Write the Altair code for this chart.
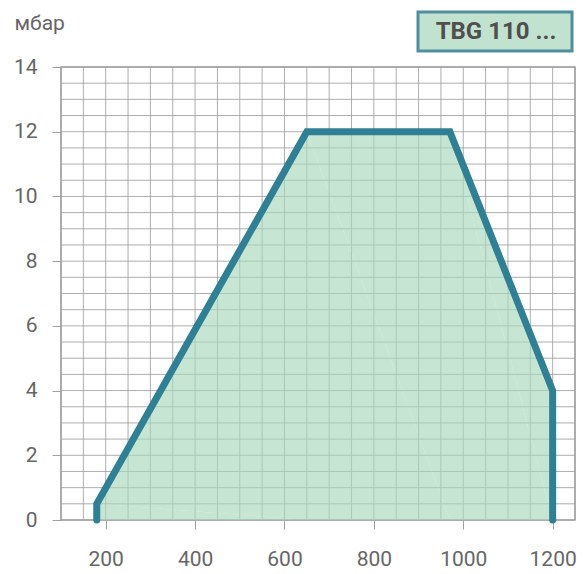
import altair as alt
import pandas as pd

# Data: working field outline
flow = [180, 180, 650, 970, 1200, 1200]
pressure = [0, 0.5, 12, 12, 4, 0]
order = list(range(len(flow)))

x_grid = list(range(100, 1251, 50))
y_grid = [v / 2 for v in range(0, 29)]
x_labels = [200, 400, 600, 800, 1000, 1200]
y_labels = [0, 2, 4, 6, 8, 10, 12, 14]
badge_text = "TBG 110 ..."
y_unit = "мбар"

df = pd.DataFrame({"flow": flow, "pressure": pressure, "order": order})
xg = pd.DataFrame({"x": x_grid})
yg = pd.DataFrame({"y": y_grid})

W, H = 514, 453
FONT = "Roboto"
LABEL_COLOR = "#666666"
GRID_COLOR = "#a0a0a0"

xscale = alt.Scale(domain=[100, 1250], nice=False, zero=False)
yscale = alt.Scale(domain=[0, 14], nice=False)

x_axis = alt.Axis(
    values=x_labels,
    format="d",
    tickColor=GRID_COLOR,
    tickSize=9,
    grid=False,
    domain=False,
    labelFont=FONT,
    labelFontSize=21,
    labelColor=LABEL_COLOR,
    labelPadding=19,
    title=None,
)

y_axis = alt.Axis(
    values=y_labels,
    format="d",
    tickColor=GRID_COLOR,
    tickSize=9,
    grid=False,
    domain=False,
    labelFont=FONT,
    labelFontSize=21,
    labelColor=LABEL_COLOR,
    labelPadding=15,
    title=y_unit,
    titleAngle=0,
    titleAlign="left",
    titleBaseline="middle",
    titleX=-47,
    titleY=-44,
    titleFont=FONT,
    titleFontSize=21,
    titleFontWeight="normal",
    titleColor=LABEL_COLOR,
)

vgrid = alt.Chart(xg).mark_rule(color=GRID_COLOR, strokeWidth=1, opacity=0.85).encode(
    x=alt.X("x:Q", scale=xscale, axis=x_axis)
)
hgrid = alt.Chart(yg).mark_rule(color=GRID_COLOR, strokeWidth=1, opacity=0.85).encode(
    y=alt.Y("y:Q", scale=yscale, axis=y_axis)
)

base = alt.Chart(df)

area = base.mark_area(color="#a8d8bb", opacity=0.65, line=False).encode(
    x=alt.X("flow:Q", scale=xscale),
    y=alt.Y("pressure:Q", scale=yscale),
    order="order:Q",
)

line = base.mark_line(color="#2f7f95", strokeWidth=7, strokeJoin="miter", strokeCap="round").encode(
    x=alt.X("flow:Q", scale=xscale),
    y=alt.Y("pressure:Q", scale=yscale),
    order="order:Q",
)

badge_df = pd.DataFrame({"t": [badge_text]})
badge_box = alt.Chart(badge_df).mark_rect(
    fill="#c2e2d0", stroke="#4f8e9c", strokeWidth=3
).encode(
    x=alt.value(357), x2=alt.value(511), y=alt.value(-55), y2=alt.value(-16)
)
badge_txt = alt.Chart(badge_df).mark_text(
    font=FONT, fontSize=24, fontWeight="bold", color="#4f4f4f", align="center", baseline="middle"
).encode(
    text="t:N", x=alt.value(435), y=alt.value(-35)
)

chart = alt.layer(vgrid, hgrid, area, line, badge_box, badge_txt).properties(
    width=W, height=H,
    autosize=alt.AutoSizeParams(type="none"),
    padding={"left": 53, "top": 59, "right": 5, "bottom": 50},
).configure_view(
    stroke=GRID_COLOR, strokeWidth=1.5
)

chart.save("out.html", embed_options={"renderer": "svg", "actions": False})
